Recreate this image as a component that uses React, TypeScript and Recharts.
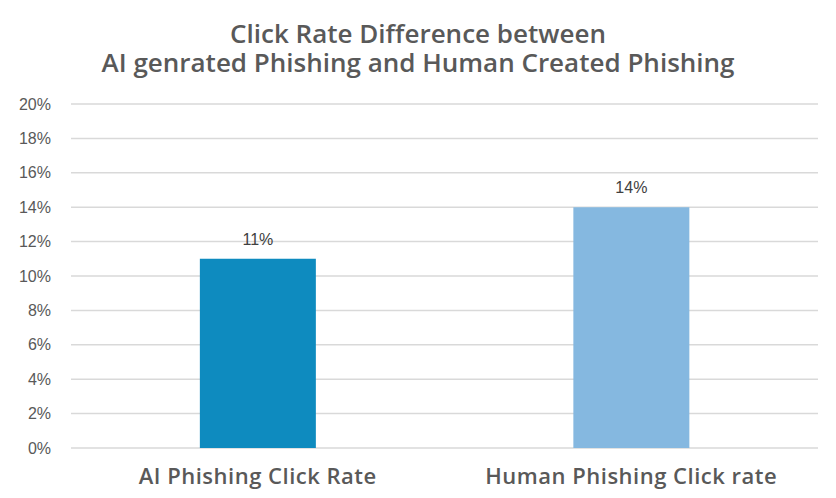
import React from 'react';
import { BarChart, Bar, XAxis, YAxis, CartesianGrid, LabelList, Cell } from 'recharts';

const categories = ['AI Phishing Click Rate', 'Human Phishing Click rate'];
const clickRates = [11, 14];
const barColors = ['#0E8BBF', '#85B8E0'];
const yTicks = [0, 2, 4, 6, 8, 10, 12, 14, 16, 18, 20];
const titleLines = ['Click Rate Difference between', 'AI genrated Phishing and Human Created Phishing'];

const data = categories.map((name, i) => ({ name, rate: clickRates[i] }));

const titleStyle: React.CSSProperties = {
  position: 'absolute', left: 0, width: 836, textAlign: 'center', fontFamily: '"Open Sans", sans-serif',
  fontSize: 26, fontWeight: 600, color: '#595959', lineHeight: '28px', whiteSpace: 'nowrap',
};

export default function App() {
  return (
    <div style={{ position: 'absolute', left: 0, top: 0, width: 836, height: 498, background: '#fff' }}>
      <div style={{ ...titleStyle, top: 19 }}>{titleLines[0]}</div>
      <div style={{ ...titleStyle, top: 48 }}>{titleLines[1]}</div>
      <BarChart width={836} height={498} data={data} margin={{ top: 104, right: 18, bottom: 0, left: 0 }} barCategoryGap="34.5%">
        <CartesianGrid vertical={false} stroke="#d9d9d9" strokeWidth={1.5} />
        <XAxis dataKey="name" axisLine={false} tickLine={false} tickSize={0} tickMargin={20} height={50}
          tick={{ fill: '#595959', fontSize: 22, fontWeight: 600, letterSpacing: 0.5, fontFamily: '"Open Sans", sans-serif' }} />
        <YAxis width={71} domain={[0, 20]} ticks={yTicks} axisLine={false} tickLine={false} tickSize={0} tickMargin={20}
          tickFormatter={(v: number) => v + '%'} interval={0}
          tick={{ fill: '#595959', fontSize: 16, fontFamily: '"Liberation Sans", Arial, sans-serif' }} />
        <Bar dataKey="rate" isAnimationActive={false}>
          {data.map((d, i) => <Cell key={d.name} fill={barColors[i]} />)}
          <LabelList dataKey="rate" position="top" offset={14} formatter={(v: number) => v + '%'}
            style={{ fill: '#404040', fontSize: 16, fontFamily: '"Liberation Sans", Arial, sans-serif' }} />
        </Bar>
      </BarChart>
    </div>
  );
}
